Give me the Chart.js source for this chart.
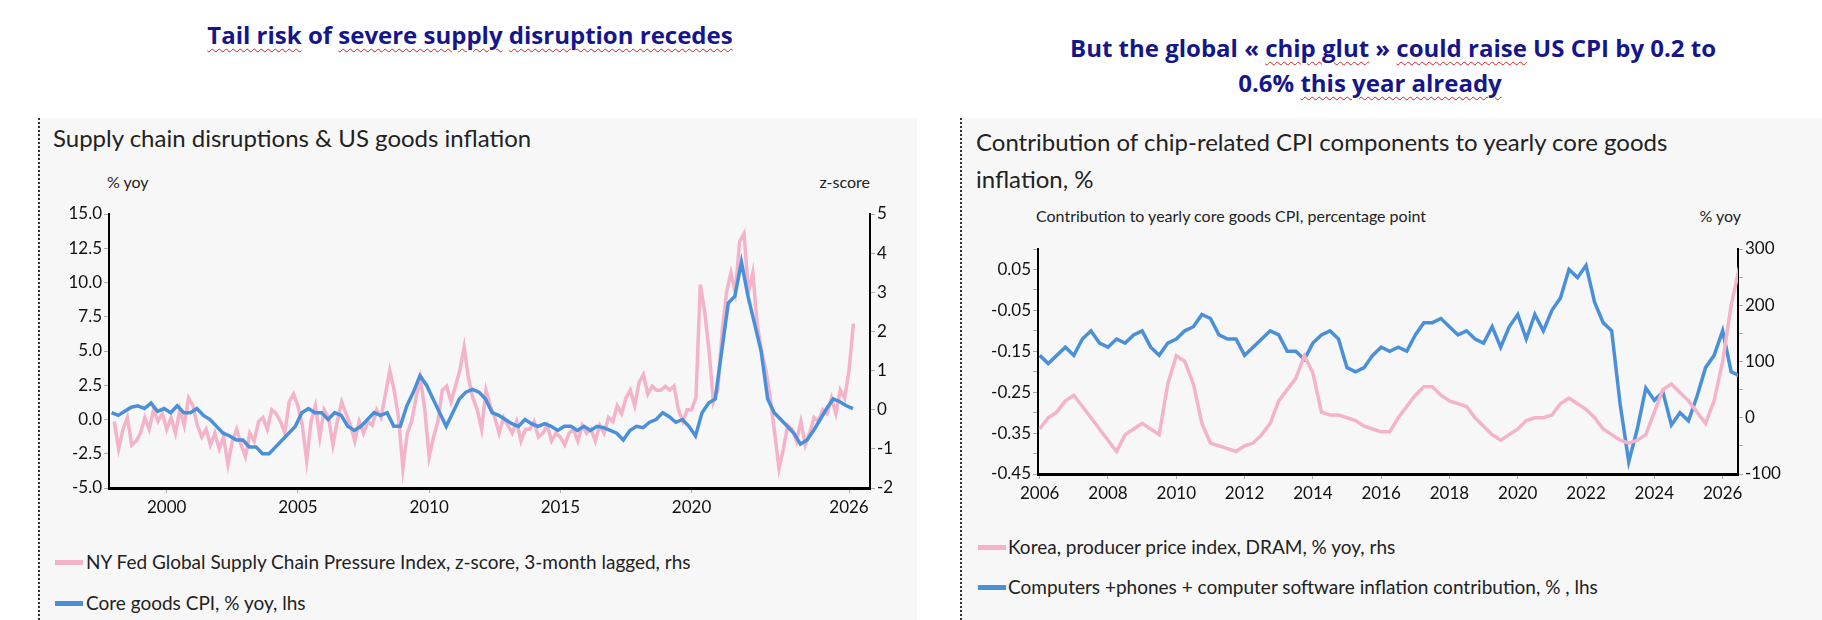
<!DOCTYPE html>
<html><head><meta charset="utf-8">
<script src="https://cdn.jsdelivr.net/npm/chart.js@4"></script>
<style>
body{margin:0;width:1822px;height:620px;background:#fff;position:relative;overflow:hidden;font-family:Lato,"Open Sans",sans-serif;}
.h{position:absolute;color:#16168c;font:bold 24px "Open Sans",sans-serif;text-align:center;white-space:nowrap}
.w{text-decoration:underline wavy #e02020;text-decoration-thickness:1px;text-underline-offset:4px}
.panel{position:absolute;background:#f7f7f7;border-left:2px dotted #333;top:118px;height:502px}
.t{position:absolute;color:#222;white-space:nowrap}
.sw{position:absolute;height:5px;width:28px}
canvas{position:absolute}
</style></head><body>
<div class="h" style="left:170px;width:600px;top:18px"><span class="w">Tail risk</span> of <span class="w">severe supply</span> <span class="w">disruption recedes</span></div>
<div class="h" style="left:1070px;width:600px;top:30px;line-height:35px">But the global « <span class="w">chip glut</span> » <span class="w">could raise</span> US CPI by 0.2 to<br>0.6% <span class="w">this year already</span></div>
<div class="panel" style="left:38px;width:877px"></div>
<div class="panel" style="left:960px;width:862px"></div>
<div class="t" style="left:53px;top:123px;font-size:24px">Supply chain disruptions &amp; US goods inflation</div>
<div class="t" style="left:107px;top:172px;font-size:16px">% yoy</div>
<div class="t" style="left:805px;top:172px;font-size:16px;width:65px;text-align:right">z-score</div>
<div class="sw" style="left:55px;top:560px;background:#f4b3c8"></div>
<div class="t" style="left:86px;top:550px;font-size:19px">NY Fed Global Supply Chain Pressure Index, z-score, 3-month lagged, rhs</div>
<div class="sw" style="left:55px;top:601px;background:#4a90d9"></div>
<div class="t" style="left:86px;top:591px;font-size:19px">Core goods CPI, % yoy, lhs</div>
<div class="t" style="left:976px;top:123px;font-size:24px;line-height:37px">Contribution of chip-related CPI components to yearly core goods<br>inflation, %</div>
<div class="t" style="left:1036px;top:206px;font-size:16px">Contribution to yearly core goods CPI, percentage point</div>
<div class="t" style="left:1680px;top:206px;font-size:16px;width:61px;text-align:right">% yoy</div>
<div class="sw" style="left:978px;top:545px;background:#f4b3c8"></div>
<div class="t" style="left:1008px;top:535px;font-size:19px">Korea, producer price index, DRAM, % yoy, rhs</div>
<div class="sw" style="left:978px;top:585px;background:#4a90d9"></div>
<div class="t" style="left:1008px;top:575px;font-size:19px">Computers +phones + computer software inflation contribution, % , lhs</div>
<canvas id="c1" style="left:40px;top:195px;width:875px;height:340px" width="875" height="340"></canvas>
<canvas id="c2" style="left:962px;top:230px;width:860px;height:270px" width="860" height="270"></canvas>
<script>
// Left chart data
const coreStart = 1997.9, coreStep = 0.25;
const coreGoodsCPI = [0.5,0.3,0.6,0.9, 1,0.8,1.2,0.6, 0.8,0.5,1,0.5, 0.5,0.8,0.3,0, -0.5,-1,-1.2,-1.5, -1.5,-2,-2,-2.5, -2.5,-2,-1.5,-1,
 -0.5,0.5,0.8,0.5, 0.5,0,0.5,0.3, -0.5,-0.8,-0.5,0, 0.5,0.3,0.5,-0.5, -0.5,1,2,3.2, 2.5,1.5,0.5,-0.5,
 0.5,1.5,2,2.2, 2,1.5,0.5,0.3, 0,-0.3,-0.5,0, -0.3,-0.5,-0.3,-0.5, -0.8,-0.5,-0.5,-0.8, -0.5,-0.8,-0.5,-0.6,
 -0.8,-1,-1.5,-0.8, -0.5,-0.6,-0.2,0, 0.5,0.2,-0.2,0, -0.5,-1.2,0.5,1.2, 1.5,5,8.5,9, 11.5,9,7,5,
 1.5,0.5,0,-0.5, -1,-1.8,-1.5,-0.8, 0,0.8,1.5,1.3, 1.0,0.8];
const gscpiStart = 1998.0, gscpiStep = 1/6;
const gscpi = [-0.3,-1.0,-0.5,-0.2,-0.9,-0.8, -0.6,-0.2,-0.5,0.0,-0.3,-0.1, -0.5,-0.2,-0.6,0.0,-0.4,0.3, 0.1,-0.4,-0.7,-0.5,-0.9,-0.6,
 -1.0,-0.7,-1.4,-0.8,-0.5,-0.9, -1.2,-0.6,-0.8,-0.3,-0.2,-0.5, 0.0,-0.1,-0.3,-0.6,0.2,0.4, 0.1,-0.4,-1.3,-0.3,0.1,-0.7,
 0.0,-0.2,-0.9,-0.3,0.2,-0.1, -0.4,-0.8,-0.3,-0.6,-0.3,-0.4, 0.0,-0.2,0.4,1.0,0.5,-0.2, -1.5,-0.6,-0.3,0.3,0.8,0.0,
 -1.2,-0.7,-0.3,0.5,0.6,0.2, 0.6,1.0,1.6,0.8,0.3,0.0, -0.5,0.5,0.1,-0.2,-0.6,-0.2, -0.4,-0.6,-0.3,-0.8,-0.5,-0.5,
 -0.3,-0.7,-0.6,-0.4,-0.8,-0.6, -0.7,-0.9,-0.6,-0.5,-0.8,-0.4, -0.6,-0.5,-0.8,-0.4,-0.6,-0.2, -0.3,0.1,-0.1,0.3,0.5,0.1,
 0.7,0.9,0.4,0.6,0.5,0.5, 0.6,0.5,0.6,0.0,-0.3,0.0, 0.0,0.3,3.2,2.5,1.5,0.2, 0.5,2.0,3.0,3.5,3.0,4.3,
 4.5,3.0,3.5,2.2,1.5,1.0, 0.3,-0.6,-1.5,-1.0,-0.4,-0.5, -0.8,-0.3,-0.9,-0.6,-0.2,-0.3, 0.0,-0.1,0.3,-0.1,0.5,0.3, 1.0,2.2];
const leftXTicks = [2000,2005,2010,2015,2020,2026];
// Right chart data
const chipStart = 2006.0, chipStep = 0.25;
const chipContribution = [-0.16,-0.18,-0.16,-0.14, -0.16,-0.12,-0.10,-0.13, -0.14,-0.12,-0.13,-0.11, -0.10,-0.14,-0.16,-0.13,
 -0.12,-0.10,-0.09,-0.06, -0.07,-0.11,-0.12,-0.12, -0.16,-0.14,-0.12,-0.10, -0.11,-0.15,-0.15,-0.17, -0.13,-0.11,-0.10,-0.12,
 -0.19,-0.20,-0.19,-0.16, -0.14,-0.15,-0.14,-0.15, -0.11,-0.08,-0.08,-0.07, -0.09,-0.11,-0.10,-0.12, -0.13,-0.09,-0.14,-0.09,
 -0.06,-0.12,-0.06,-0.10, -0.05,-0.02,0.05,0.03, 0.06,-0.03,-0.08,-0.10, -0.28,-0.42,-0.34,-0.24, -0.27,-0.25,-0.33,-0.30,
 -0.32,-0.26,-0.19,-0.16, -0.10,-0.20,-0.21];
const dramStart = 2006.0, dramStep = 0.25;
const dramPPI = [-20,0,10,30, 40,20,0,-20, -40,-60,-30,-20, -10,-20,-30,60, 110,100,60,-10, -45,-50,-55,-60, -50,-45,-30,-10,
 30,50,70,110, 80,10,5,5, 0,-5,-15,-20, -25,-25,0,20, 40,55,55,40, 30,25,20,0, -15,-30,-40,-30, -20,-5,0,0, 5,25,35,25,
 15,0,-20,-30, -40,-45,-40,-30, 10,50,60,45, 30,10,-10,30, 100,200,270];
const rightXTicks = [2006,2008,2010,2012,2014,2016,2018,2020,2022,2024,2026];

const pts=(a,s,st)=>a.map((v,i)=>({x:s+i*st,y:v}));
const PINK='#f4b3c8', BLUE='#4a90d9';
const tickFont={family:'Lato, sans-serif',size:17};
function axis(pos,min,max,step,w,fmt,show){
  return {position:pos,type:'linear',min,max,
    afterFit:s=>{s.width=w;},
    afterBuildTicks:s=>{const t=[];for(let v=min;v<=max+1e-9;v+=step)t.push({value:+v.toFixed(4)});s.ticks=t;},
    ticks:{color:'#111',font:tickFont,padding:2,autoSkip:false,callback:(v,i)=>show(i)?fmt(v):''},
    grid:{drawOnChartArea:false,drawTicks:true,tickLength:5,color:'#aaa'},
    border:{display:true,color:'#000',width:2}};
}
function xaxis(min,max,ticks,h){
  return {type:'linear',min,max,afterFit:s=>{s.height=h;},
    afterBuildTicks:s=>{s.ticks=ticks.map(v=>({value:v}));},
    ticks:{color:'#111',font:tickFont,autoSkip:false,maxRotation:0,padding:4,callback:v=>String(v)},
    grid:{drawOnChartArea:false,drawTicks:true,tickLength:5,color:'#aaa'},
    border:{display:true,color:'#000',width:3}};
}
const common={responsive:false,animation:false,maintainAspectRatio:false,
  plugins:{legend:{display:false},tooltip:{enabled:false}},
  elements:{point:{radius:0},line:{tension:0,borderWidth:3.5}}};
new Chart(document.getElementById('c1'),{type:'line',
  data:{datasets:[
    {data:pts(coreGoodsCPI,coreStart,coreStep),borderColor:BLUE,yAxisID:'y'},
    {data:pts(gscpi,gscpiStart,gscpiStep),borderColor:PINK,yAxisID:'y1'}]},
  options:{...common,layout:{padding:{top:19,right:0,left:0,bottom:0}},
    scales:{x:xaxis(1997.8,2026.8,leftXTicks,47),
      y:axis('left',-5,15,2.5,69,v=>v.toFixed(1),()=>true),
      y1:axis('right',-2,5,1,45,v=>String(v),()=>true)}}});
new Chart(document.getElementById('c2'),{type:'line',
  data:{datasets:[
    {data:pts(dramPPI,dramStart,dramStep),borderColor:PINK,yAxisID:'y1'},
    {data:pts(chipContribution,chipStart,chipStep),borderColor:BLUE,yAxisID:'y'}]},
  options:{...common,layout:{padding:{top:19,right:0,left:0,bottom:0}},
    scales:{x:xaxis(2005.95,2026.45,rightXTicks,26),
      y:axis('left',-0.45,0.1,0.05,76,v=>v.toFixed(2),i=>i%2===0),
      y1:axis('right',-100,300,50,84,v=>String(v),i=>i%2===0)}}});
</script></body></html>
